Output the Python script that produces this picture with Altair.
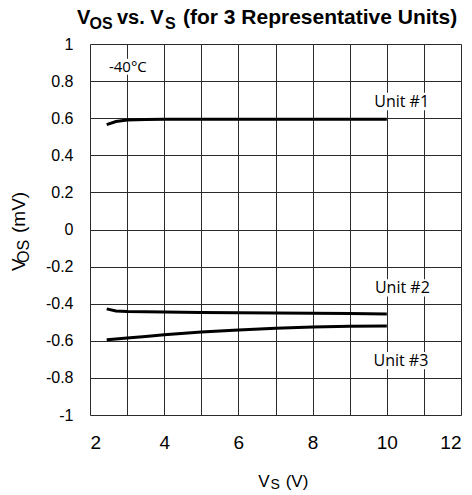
import altair as alt
import pandas as pd

# ---- data ----
vs = [2.45, 2.7, 3.0, 3.5, 4.0, 5.0, 6.0, 7.0, 8.0, 9.0, 10.0]
unit1 = [0.565, 0.582, 0.590, 0.593, 0.595, 0.595, 0.595, 0.595, 0.595, 0.595, 0.595]
unit2 = [-0.428, -0.439, -0.442, -0.444, -0.445, -0.447, -0.449, -0.450, -0.451, -0.453, -0.455]
unit3 = [-0.594, -0.590, -0.585, -0.577, -0.568, -0.553, -0.542, -0.533, -0.526, -0.522, -0.520]
unit_names = ["Unit #1", "Unit #2", "Unit #3"]

x_ticks = [2, 3, 4, 5, 6, 7, 8, 9, 10, 11, 12]
y_ticks = [-1.0, -0.8, -0.6, -0.4, -0.2, 0.0, 0.2, 0.4, 0.6, 0.8, 1.0]

# annotation labels (data coordinates)
unit_label_x = [10.40, 10.42, 10.38]
unit_label_y = [0.69, -0.315, -0.707]
temp_label = ["-40°C"]
temp_label_x = [3.02]
temp_label_y = [0.878]

W, H = 371, 371

rows = []
for name, vals in zip(unit_names, [unit1, unit2, unit3]):
    for xv, yv in zip(vs, vals):
        rows.append({"vs": xv, "vos": yv, "unit": name})
df = pd.DataFrame(rows)

lab_df = pd.DataFrame({"t": unit_names, "x": unit_label_x, "y": unit_label_y})
temp_df = pd.DataFrame({"t": temp_label, "x": temp_label_x, "y": temp_label_y})

xscale = alt.Scale(domain=[2, 12], nice=False, zero=False)
yscale = alt.Scale(domain=[-1, 1], nice=False, zero=False)

xaxis = alt.Axis(values=x_ticks, grid=True, ticks=False, domain=False,
                 labelExpr="datum.value % 2 == 0 ? toString(datum.value) : ''",
                 labelFont="Liberation Sans", labelFontSize=19, labelColor="black",
                 labelPadding=18, labelOverlap=False, title=None,
                 gridColor="#2a2a2a", gridWidth=1)
yaxis = alt.Axis(values=y_ticks, grid=True, ticks=False, domain=False,
                 labelExpr="toString(round(datum.value*10)/10)",
                 labelFont="Liberation Sans", labelFontSize=16, labelColor="black",
                 labelPadding=17, labelOverlap=False, title=None,
                 gridColor="#2a2a2a", gridWidth=1)

X = lambda f: alt.X(f, scale=xscale, axis=xaxis)
Y = lambda f: alt.Y(f, scale=yscale, axis=yaxis)

lines = alt.Chart(df).mark_line(color="black", strokeWidth=3, strokeCap="butt").encode(
    x=X("vs:Q"), y=Y("vos:Q"), detail="unit:N",
)

box_unit = alt.Chart(lab_df).mark_point(
    shape="M-1,-0.27L1,-0.27L1,0.27L-1,0.27Z", size=4096, filled=True,
    color="white", opacity=1, strokeWidth=0
).encode(x=X("x:Q"), y=Y("y:Q"))

box_temp = alt.Chart(temp_df).mark_point(
    shape="M-1,-0.4L1,-0.4L1,0.4L-1,0.4Z", size=1600, filled=True,
    color="white", opacity=1, strokeWidth=0
).encode(x=X("x:Q"), y=Y("y:Q"))

txt_unit = alt.Chart(lab_df).mark_text(
    font="Open Sans", fontSize=16, color="black", align="center", baseline="middle"
).encode(x=X("x:Q"), y=Y("y:Q"), text="t:N")

txt_temp = alt.Chart(temp_df).mark_text(
    font="Open Sans", fontSize=15, color="black", align="center", baseline="middle"
).encode(x=X("x:Q"), y=Y("y:Q"), text="t:N")


def piece(text, x, y, size, bold=False, angle=0):
    d = pd.DataFrame({"t": [text]})
    kw = dict(font="Liberation Sans", fontSize=size, color="black",
              align="left", baseline="alphabetic")
    if bold:
        kw["fontWeight"] = "bold"
    if angle:
        kw["angle"] = angle
    return alt.Chart(d).mark_text(**kw).encode(
        x=alt.value(x), y=alt.value(y), text="t:N")


title_parts = [
    piece("V", -13, -20, 20, True),
    piece("OS", -0.5, -15.5, 16, True),
    piece("vs. V", 27, -20, 20, True),
    piece("S", 75, -15.5, 16, True),
    piece("(for 3 Representative Units)", 93, -20, 21, True),
]
xtitle_parts = [
    piece("V", 168.3, 443, 17),
    piece("S", 180.5, 445.3, 14),
    piece("(V)", 195.7, 443, 17),
]
ytitle_parts = [
    piece("V", -65, 227, 19, angle=270),
    piece("OS", -61.5, 219, 16, angle=270),
    piece("(mV)", -65, 189, 19, angle=270),
]

chart = alt.layer(
    lines, box_unit, box_temp, txt_unit, txt_temp,
    *title_parts, *xtitle_parts, *ytitle_parts
).properties(
    width=W, height=H,
    autosize=alt.AutoSizeParams(type="none"),
    padding={"left": 82, "top": 36, "right": 3, "bottom": 76},
).configure_view(
    stroke="black", strokeWidth=2
).configure(background="white")

chart.save("out.html", embed_options={"renderer": "svg", "actions": False})
